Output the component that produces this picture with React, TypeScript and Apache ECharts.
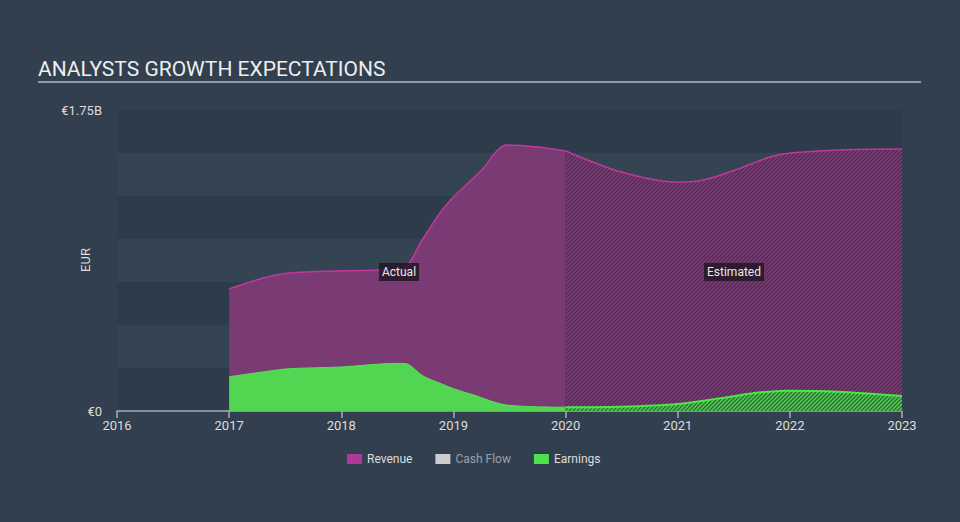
import React, { useEffect, useRef } from "react";
import * as echarts from "echarts";

const years = [2016, 2017, 2018, 2019, 2020, 2021, 2022, 2023];

const revenueActual: [number, number][] = [
  [2017.0, 0.709],
  [2017.47, 0.797],
  [2018.32, 0.82],
  [2018.55, 0.828],
  [2018.72, 0.994],
  [2018.88, 1.151],
  [2019.0, 1.244],
  [2019.27, 1.413],
  [2019.37, 1.5],
  [2019.47, 1.547],
  [2019.75, 1.535],
  [2020.0, 1.512],
];
const revenueEstimated: [number, number][] = [
  [2020.0, 1.512],
  [2020.49, 1.391],
  [2021.0, 1.33],
  [2021.23, 1.343],
  [2021.53, 1.405],
  [2021.83, 1.478],
  [2022.03, 1.502],
  [2022.57, 1.521],
  [2023.0, 1.523],
];
const earningsActual: [number, number][] = [
  [2017.0, 0.199],
  [2017.47, 0.242],
  [2017.6, 0.248],
  [2018.0, 0.256],
  [2018.5, 0.277],
  [2018.57, 0.276],
  [2018.73, 0.203],
  [2018.88, 0.161],
  [2019.0, 0.13],
  [2019.18, 0.093],
  [2019.47, 0.035],
  [2020.0, 0.022],
];
const earningsEstimated: [number, number][] = [
  [2020.0, 0.022],
  [2020.49, 0.025],
  [2021.0, 0.041],
  [2021.38, 0.074],
  [2021.67, 0.103],
  [2021.97, 0.118],
  [2022.42, 0.112],
  [2023.0, 0.087],
];

function hatch(bg: string, fg: string, size = 4, lw = 1.2) {
  const c = document.createElement("canvas");
  c.width = size;
  c.height = size;
  const ctx = c.getContext("2d")!;
  ctx.fillStyle = bg;
  ctx.fillRect(0, 0, size, size);
  ctx.strokeStyle = fg;
  ctx.lineWidth = lw;
  ctx.beginPath();
  ctx.moveTo(-1, 1);
  ctx.lineTo(1, -1);
  ctx.moveTo(0, size);
  ctx.lineTo(size, 0);
  ctx.moveTo(size - 1, size + 1);
  ctx.lineTo(size + 1, size - 1);
  ctx.stroke();
  return { image: c, repeat: "repeat" as const };
}

export default function App() {
  const ref = useRef<HTMLDivElement>(null);
  useEffect(() => {
    document.body.style.margin = "0";
    const chart = echarts.init(ref.current!, undefined, { renderer: "svg" });
    const revColor = "#c0389e";
    const revFill = "#7a3a73";
    const earnColor = "#52d652";
    chart.setOption({
      animation: false,
      backgroundColor: "#323f4f",
      textStyle: { fontFamily: "Roboto" },
      title: {
        text: "ANALYSTS GROWTH EXPECTATIONS",
        left: 33,
        top: 53,
        textStyle: { color: "#eeeeee", fontSize: 21, fontWeight: "normal", fontFamily: "Roboto" },
      },
      graphic: [
        { type: "line", shape: { x1: 38, y1: 82, x2: 921, y2: 82 }, style: { stroke: "#aeb6c0", lineWidth: 1.5 } },
        {
          type: "text", x: 85, y: 260, rotation: Math.PI / 2,
          style: {
            text: "EUR", fill: "#dddddd", fontSize: 13, fontFamily: "Roboto",
            align: "center", verticalAlign: "middle",
          },
        },
        {
          type: "text", x: 399, y: 272, z: 100,
          style: {
            text: "Actual", fill: "#e8e8e8", fontSize: 12, fontFamily: "Roboto",
            align: "center", verticalAlign: "middle",
            backgroundColor: "rgba(35,22,38,0.85)", padding: [3, 3],
          },
        },
        {
          type: "text", x: 734, y: 272, z: 100,
          style: {
            text: "Estimated", fill: "#e8e8e8", fontSize: 12, fontFamily: "Roboto",
            align: "center", verticalAlign: "middle",
            backgroundColor: "rgba(35,22,38,0.85)", padding: [3, 3],
          },
        },
      ],
      legend: {
        left: 342,
        top: 448,
        itemWidth: 15,
        itemHeight: 10,
        itemGap: 23,
        icon: "rect",
        textStyle: { color: "#dddddd", fontSize: 12, fontFamily: "Roboto" },
        selectedMode: false,
        data: [
          { name: "Revenue", itemStyle: { color: "#b0389c" } },
          { name: "Cash Flow", itemStyle: { color: "#cccccc" }, textStyle: { color: "#9aa0a8" } },
          { name: "Earnings", itemStyle: { color: "#4ee04e" } },
        ],
      },
      grid: { left: 117, right: 58, top: 110, bottom: 111 },
      xAxis: {
        type: "value",
        min: years[0],
        max: years[years.length - 1],
        interval: 1,
        axisLine: { lineStyle: { color: "#a4aeb8", width: 1.5 } },
        axisTick: { show: true, length: 7, lineStyle: { color: "#a4aeb8", width: 1.5 } },
        axisLabel: { color: "#dddddd", fontSize: 13, margin: 8, formatter: (v: number) => String(v) },
        splitLine: { show: false },
      },
      yAxis: {
        type: "value",
        min: 0,
        max: 1.75,
        interval: 0.25,
        axisLine: { show: false },
        axisTick: { show: false },
        splitLine: { show: false },
        splitArea: { show: true, areaStyle: { color: ["#2e3b4a", "#344453"] } },
        axisLabel: {
          color: "#dddddd",
          fontSize: 13,
          margin: 15,
          formatter: (v: number) => (v === 0 ? "€0" : Math.abs(v - 1.75) < 1e-6 ? "€1.75B" : ""),
        },
      },
      series: [
        {
          name: "Revenue",
          type: "line",
          data: revenueActual,
          smooth: 0.3,
          showSymbol: false,
          itemStyle: { color: "#b0389c" },
          lineStyle: { color: revColor, width: 1.5 },
          areaStyle: { color: revFill, opacity: 1 },
          z: 2,
        },
        {
          name: "Revenue Est",
          type: "line",
          data: revenueEstimated,
          smooth: 0.3,
          showSymbol: false,
          lineStyle: { color: revColor, width: 1.5 },
          areaStyle: { color: hatch("#7a3a73", "#4a2f4f"), opacity: 1 },
          z: 2,
        },
        { name: "Cash Flow", type: "line", data: [], itemStyle: { color: "#cccccc" } },
        {
          name: "Earnings",
          type: "line",
          data: earningsActual,
          smooth: 0.3,
          showSymbol: false,
          itemStyle: { color: "#4ee04e" },
          lineStyle: { color: "#5be05b", width: 1 },
          areaStyle: { color: earnColor, opacity: 1 },
          z: 3,
        },
        {
          name: "Earnings Est",
          type: "line",
          data: earningsEstimated,
          smooth: 0.3,
          showSymbol: false,
          lineStyle: { color: "#48e848", width: 2 },
          areaStyle: { color: hatch("#4fc94f", "#35573f"), opacity: 1 },
          z: 3,
        },
      ],
    });
    return () => chart.dispose();
  }, []);
  return <div ref={ref} style={{ position: "absolute", left: 0, top: 0, width: 960, height: 522 }} />;
}
